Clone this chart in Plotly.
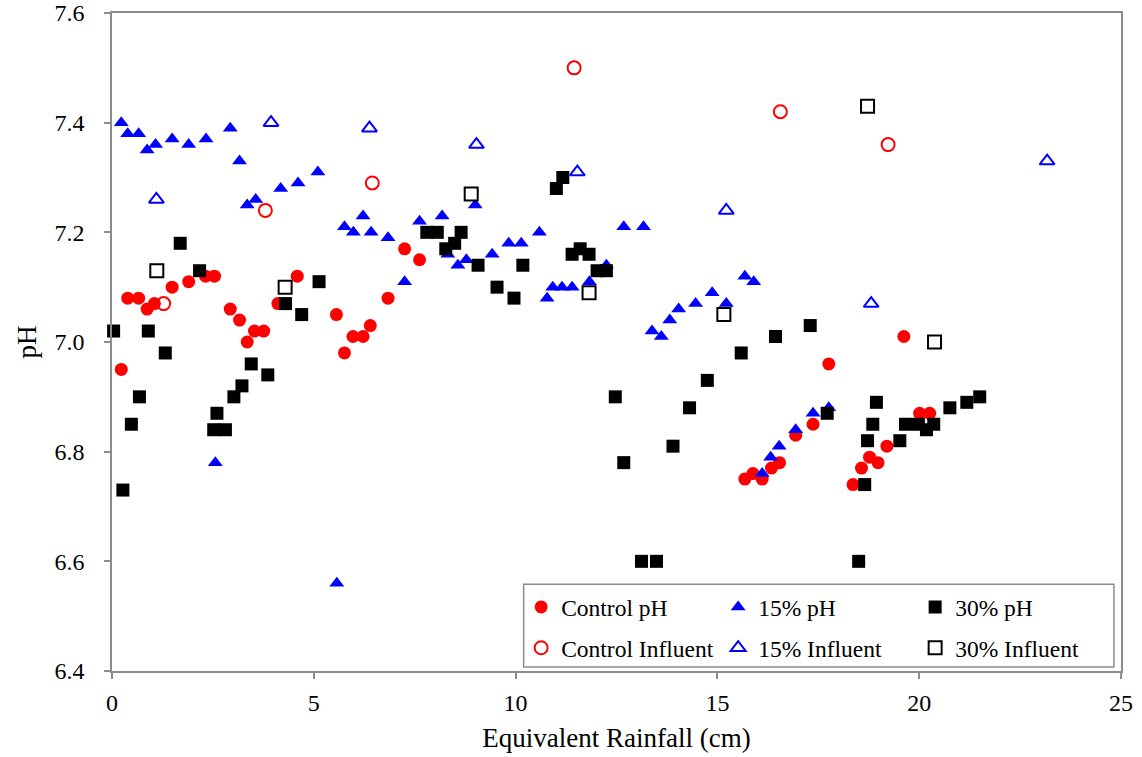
import plotly.graph_objects as go

# Equivalent rainfall (cm) and pH readings for each column
control_x = [0.23, 0.39, 0.66, 0.87, 1.05, 1.49, 1.90, 2.32, 2.54, 2.93, 3.16, 3.35, 3.53, 3.76,
             4.11, 4.59, 5.56, 5.76, 5.97, 6.22, 6.40, 6.84, 7.25, 7.62, 15.68, 15.88, 16.11,
             16.34, 16.54, 16.94, 17.37, 17.76, 18.36, 18.57, 18.77, 18.98, 19.20, 19.62, 20.01, 20.26]
control_ph = [6.95, 7.08, 7.08, 7.06, 7.07, 7.10, 7.11, 7.12, 7.12, 7.06, 7.04, 7.00, 7.02, 7.02,
              7.07, 7.12, 7.05, 6.98, 7.01, 7.01, 7.03, 7.08, 7.17, 7.15, 6.75, 6.76, 6.75,
              6.77, 6.78, 6.83, 6.85, 6.96, 6.74, 6.77, 6.79, 6.78, 6.81, 7.01, 6.87, 6.87]

p15_x = [0.23, 0.39, 0.66, 0.87, 1.08, 1.49, 1.90, 2.33, 2.56, 2.93, 3.16, 3.35, 3.56, 4.18,
         4.61, 5.10, 5.57, 5.76, 5.98, 6.22, 6.42, 6.84, 7.25, 7.62, 8.18, 8.32, 8.57, 8.78,
         9.00, 9.42, 9.83, 10.14, 10.59, 10.78, 10.92, 11.15, 11.40, 11.83, 12.25, 12.68, 13.17,
         13.38, 13.61, 13.82, 14.04, 14.46, 14.87, 15.22, 15.68, 15.90, 16.11, 16.32, 16.53,
         16.94, 17.37, 17.76]
p15_ph = [7.40, 7.38, 7.38, 7.35, 7.36, 7.37, 7.36, 7.37, 6.78, 7.39, 7.33, 7.25, 7.26, 7.28,
          7.29, 7.31, 6.56, 7.21, 7.20, 7.23, 7.20, 7.19, 7.11, 7.22, 7.23, 7.16, 7.14, 7.15,
          7.25, 7.16, 7.18, 7.18, 7.20, 7.08, 7.10, 7.10, 7.10, 7.11, 7.14, 7.21, 7.21,
          7.02, 7.01, 7.04, 7.06, 7.07, 7.09, 7.07, 7.12, 7.11, 6.76, 6.79, 6.81,
          6.84, 6.87, 6.88]

p30_x = [0.04, 0.27, 0.48, 0.68, 0.90, 1.32, 1.69, 2.17, 2.52, 2.60, 2.81, 3.02, 3.22, 3.45,
         3.86, 4.30, 4.70, 5.13, 7.80, 8.06, 8.27, 8.49, 8.65, 9.07, 9.54, 9.96, 10.18, 11.01,
         11.17, 11.40, 11.60, 11.82, 12.02, 12.25, 12.47, 12.68, 13.12, 13.49, 13.90, 14.31,
         14.75, 15.59, 16.44, 17.30, 17.72, 18.50, 18.65, 18.72, 18.85, 18.94, 19.52, 19.66,
         19.98, 20.18, 20.36, 20.76, 21.18, 21.50]
p30_ph = [7.02, 6.73, 6.85, 6.90, 7.02, 6.98, 7.18, 7.13, 6.84, 6.87, 6.84, 6.90, 6.92, 6.96,
          6.94, 7.07, 7.05, 7.11, 7.20, 7.20, 7.17, 7.18, 7.20, 7.14, 7.10, 7.08, 7.14, 7.28,
          7.30, 7.16, 7.17, 7.16, 7.13, 7.13, 6.90, 6.78, 6.60, 6.60, 6.81, 6.88,
          6.93, 6.98, 7.01, 7.03, 6.87, 6.60, 6.74, 6.82, 6.85, 6.89, 6.82, 6.85,
          6.85, 6.84, 6.85, 6.88, 6.89, 6.90]

control_inf_x = [1.28, 3.80, 6.45, 11.45, 16.56, 19.23]
control_inf_ph = [7.07, 7.24, 7.29, 7.50, 7.42, 7.36]

p15_inf_x = [1.10, 3.94, 6.38, 9.03, 11.53, 15.22, 18.81, 23.17]
p15_inf_ph = [7.26, 7.40, 7.39, 7.36, 7.31, 7.24, 7.07, 7.33]

p30_inf_x = [1.11, 4.29, 8.90, 11.82, 15.16, 18.72, 20.38]
p30_inf_ph = [7.13, 7.10, 7.27, 7.09, 7.05, 7.43, 7.00]

FONT = "Liberation Serif"
GRAY = "#8c8c8c"

fig = go.Figure()

def add(x, y, name, symbol, color, line_color, line_width, legend):
    fig.add_trace(go.Scatter(
        x=x, y=y, mode="markers", name=name, legend=legend, cliponaxis=False,
        marker=dict(symbol=symbol, size=13, color=color,
                    line=dict(color=line_color, width=line_width)),
    ))

add(control_x, control_ph, "Control pH", "circle", "#ff0000", "#ff0000", 0, "legend")
add(p15_x, p15_ph, "15% pH", "triangle-up", "#0000ff", "#0000ff", 0, "legend")
add(p30_x, p30_ph, "30% pH", "square", "#000000", "#000000", 0, "legend")
add(control_inf_x, control_inf_ph, "Control Influent", "circle-open", "#ff0000", "#ff0000", 2, "legend2")
add(p15_inf_x, p15_inf_ph, "15% Influent", "triangle-up-open", "#0000ff", "#0000ff", 2, "legend2")
add(p30_inf_x, p30_inf_ph, "30% Influent", "square", "#ffffff", "#000000", 2, "legend2")

axis_common = dict(
    showgrid=False, zeroline=False, showline=True, linecolor=GRAY, linewidth=1.5,
    mirror=True, ticks="outside", ticklen=6, tickwidth=1.5, tickcolor=GRAY,
    tickfont=dict(family=FONT, size=24, color="black"), automargin=False,
)

legend_common = dict(
    orientation="h", xanchor="left", yanchor="middle", entrywidth=152,
    font=dict(family=FONT, size=23.5, color="black"), bgcolor="rgba(0,0,0,0)",
    borderwidth=0, itemclick=False, itemdoubleclick=False,
)

fig.update_layout(
    width=1142, height=757,
    margin=dict(l=112, r=21, t=13, b=86),
    paper_bgcolor="white", plot_bgcolor="white",
    font=dict(family=FONT, color="black"),
    xaxis=dict(range=[0, 25], dtick=5, tick0=0, ticklabelstandoff=3,
               title=dict(text="Equivalent Rainfall (cm)", font=dict(family=FONT, size=27),
                          standoff=14),
               **axis_common),
    yaxis=dict(range=[6.4, 7.6], dtick=0.2, tick0=6.4, tickformat=".1f", ticklabelstandoff=15,
               title=dict(text="pH", font=dict(family=FONT, size=27), standoff=10),
               **axis_common),
    legend=dict(x=0.4055, y=0.097, **legend_common),
    legend2=dict(x=0.4055, y=0.035, **legend_common),
    shapes=[dict(type="rect", xref="paper", yref="paper",
                 x0=0.408, x1=0.993, y0=0.006, y1=0.132,
                 line=dict(color=GRAY, width=1.5), fillcolor="white", layer="below")],
)

fig.write_html("out.html")
